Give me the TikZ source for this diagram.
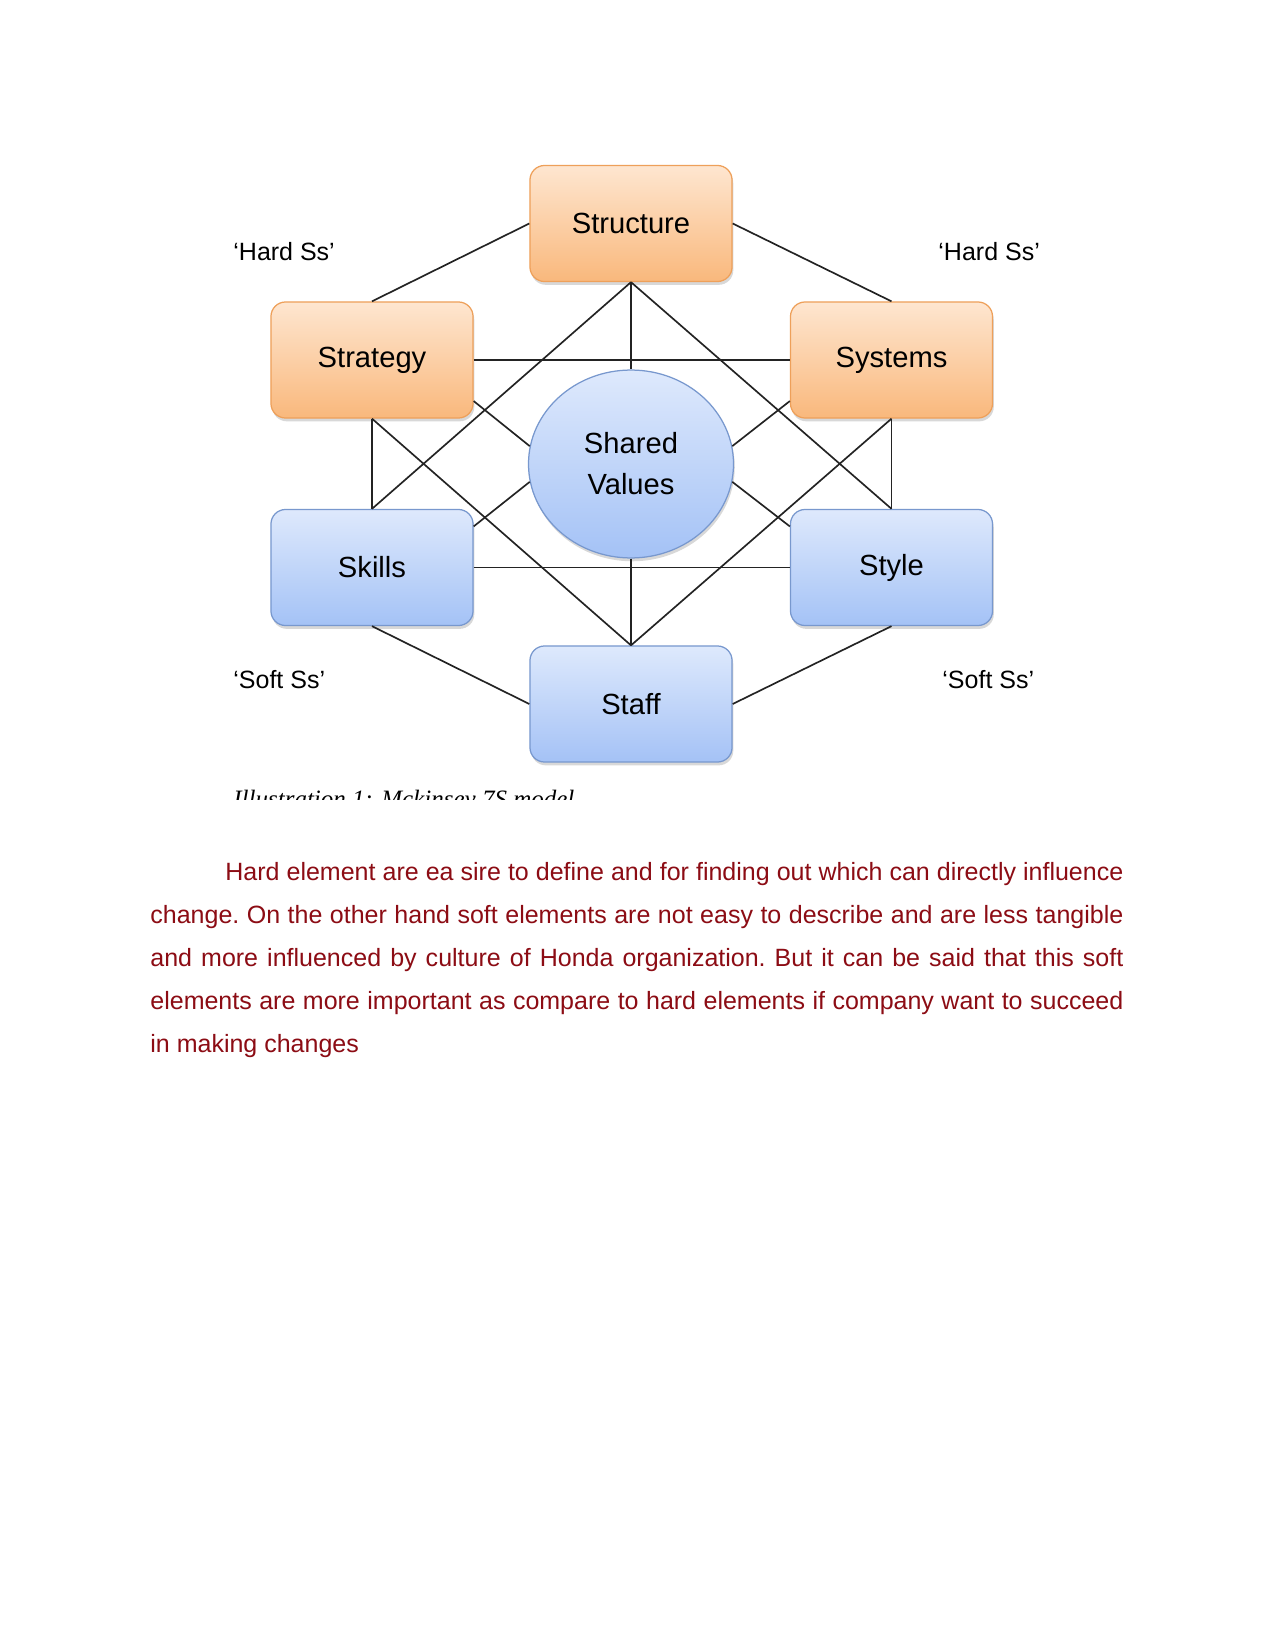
\documentclass[tikz,border=0pt]{standalone}
\usepackage{fontspec}
\setmainfont{Liberation Sans}
\newfontfamily\serifcap{Liberation Serif}
\usepackage{xcolor}
\usepackage{tikz}
\usetikzlibrary{shapes.geometric,shadows}
\definecolor{hardtop}{RGB}{254, 230, 208}
\definecolor{hardbottom}{RGB}{249, 184, 124}
\definecolor{hardedge}{RGB}{238, 160, 90}
\definecolor{softtop}{RGB}{222, 233, 252}
\definecolor{softbottom}{RGB}{164, 194, 246}
\definecolor{softedge}{RGB}{120, 152, 206}
\definecolor{linkgray}{RGB}{35, 35, 35}
\definecolor{bodyred}{RGB}{140, 12, 20}

\begin{document}
\begin{tikzpicture}[x=0.48pt,y=-0.48pt,
    sbox/.style={rectangle, rounded corners=7pt, minimum width=97pt, minimum height=55.7pt,
        inner sep=0pt, font=\fontsize{14}{17}\selectfont, line width=0.6pt,
        drop shadow={shadow xshift=0.6pt, shadow yshift=-1.6pt, opacity=0.3, fill=black!50}},
    hardbox/.style={sbox, draw=hardedge, top color=hardtop, bottom color=hardbottom},
    softbox/.style={sbox, draw=softedge, top color=softtop, bottom color=softbottom},
    valuesnode/.style={ellipse, minimum width=98.4pt, minimum height=90.2pt, inner sep=0pt,
        draw=softedge, line width=0.6pt, top color=softtop, bottom color=softbottom,
        align=center, font=\fontsize{14}{19.7}\selectfont,
        drop shadow={shadow xshift=0.6pt, shadow yshift=-1.6pt, opacity=0.3, fill=black!50}},
    link/.style={draw=linkgray, line width=0.8pt},
    sslabel/.style={anchor=west, inner sep=0pt, font=\fontsize{12}{14}\selectfont}]
    \useasboundingbox[fill=white] (0,0) rectangle (1275,1650);
    % the seven S
    \node[hardbox] (structure) at (631,223.5) {Structure};
    \node[hardbox] (strategy) at (372,360) {Strategy};
    \node[hardbox] (systems) at (891.5,360) {Systems};
    \node[softbox] (skills) at (372,567.5) {Skills};
    \node[softbox] (style) at (891.5,567.5) {Style};
    \node[softbox] (staff) at (631,704) {Staff};
    \node[valuesnode] (shared) at (631,464) {Shared\\Values};
    % outer hexagon
    \draw[link] (structure.west) -- (strategy.north);
    \draw[link] (structure.east) -- (systems.north);
    \draw[link] (skills.south) -- (staff.west);
    \draw[link] (style.south) -- (staff.east);
    \draw[link] (strategy.south) -- (skills.north);
    \draw[link] (systems.south) -- (style.north);
    % inner links
    \draw[link] (strategy.east) -- (systems.west);
    \draw[link] (skills.east) -- (style.west);
    \draw[link] (structure.south) -- (shared.north);
    \draw[link] (shared.south) -- (staff.north);
    \draw[link] (structure.south) -- (skills.north);
    \draw[link] (structure.south) -- (style.north);
    \draw[link] (staff.north) -- (strategy.south);
    \draw[link] (staff.north) -- (systems.south);
    \draw[link] (strategy.-22) -- (shared.170);
    \draw[link] (systems.202) -- (shared.10);
    \draw[link] (skills.22) -- (shared.190);
    \draw[link] (style.158) -- (shared.-10);
    % labels
    \node[sslabel] (hardl) at (233,252) {‘Hard Ss’};
    \node[sslabel] (hardr) at (938,252) {‘Hard Ss’};
    \node[sslabel] (softl) at (233,680) {‘Soft Ss’};
    \node[sslabel] (softr) at (942,680) {‘Soft Ss’};
    % caption, cut off
    \begin{scope}
        \clip (220,770) rectangle (640,799);
        \node[anchor=base west, inner sep=0pt, font=\serifcap\itshape\fontsize{12}{14}\selectfont]
            (caption) at (233,807.5) {Illustration 1: Mckinsey 7S model};
    \end{scope}
    % body text
    \node[anchor=north west, inner sep=0pt, text width=467pt, align=justify, text=bodyred,
        font=\fontsize{12}{20.6}\selectfont\frenchspacing] (body) at (150,862)
        {\hspace*{36pt}Hard element are ea sire to define and for finding out which can directly influence\linebreak
        change. On the other hand soft elements are not easy to describe and are less tangible\linebreak
        and more influenced by culture of Honda organization. But it can be said that this soft\linebreak
        elements are more important as compare to hard elements if company want to succeed\linebreak
        in making changes};
\end{tikzpicture}
\end{document}
